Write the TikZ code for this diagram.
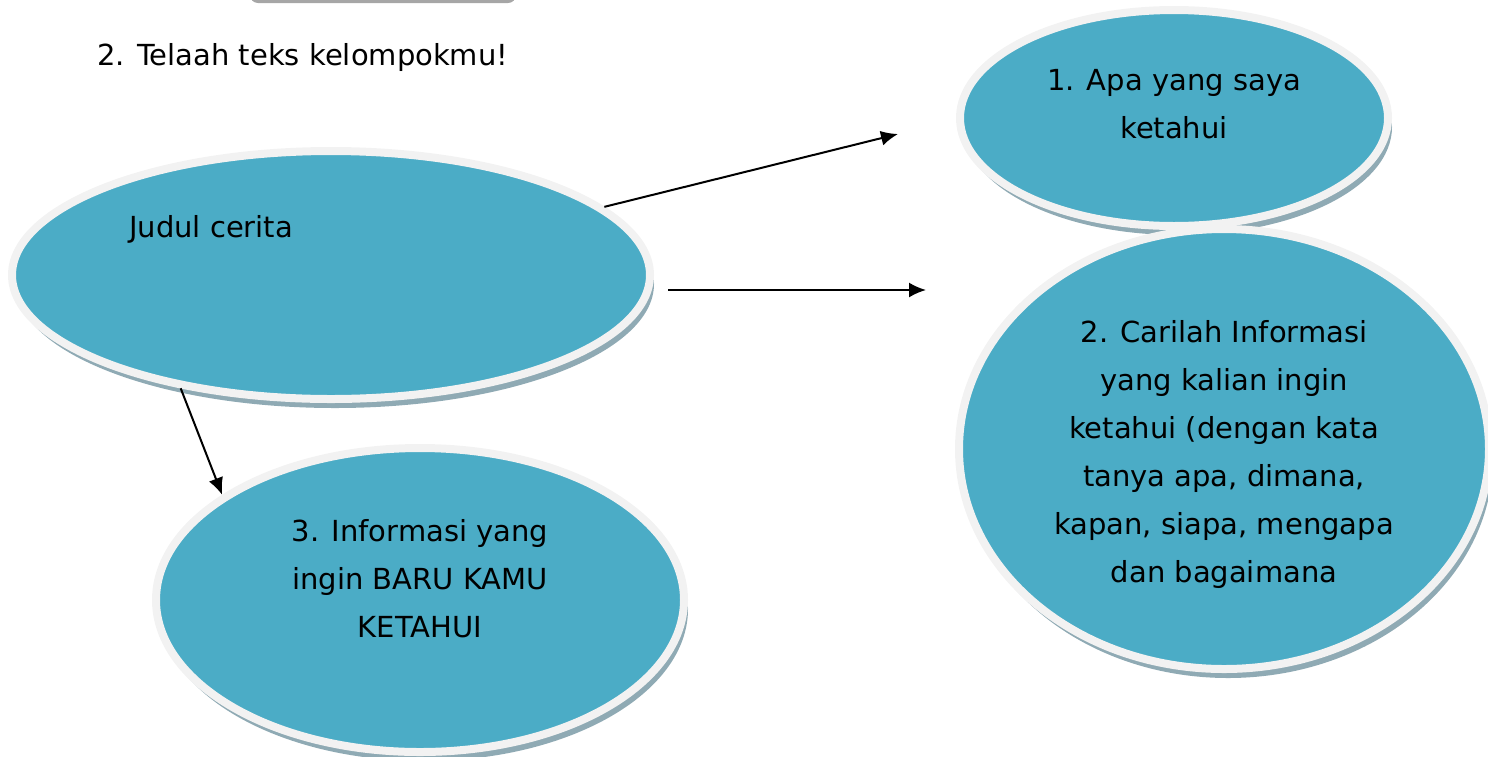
\documentclass[tikz,border=0pt]{standalone}
\usepackage{fontspec}
\setmainfont{DejaVu Sans}
\usepackage{xcolor}
\usetikzlibrary{shapes.geometric,shadows,arrows.meta}
\definecolor{tealfill}{HTML}{4BACC6}
\definecolor{rim}{HTML}{F2F2F2}
\definecolor{shade}{HTML}{8FAAB4}

\begin{document}
\begin{tikzpicture}[x=1pt,y=-1pt,
  blob/.style={ellipse, fill=tealfill, draw=rim, line width=8pt, inner sep=0pt,
    drop shadow={shadow xshift=4pt, shadow yshift=-9pt, fill=shade, opacity=1}},
  txt/.style={font=\fontsize{29}{48}\selectfont, align=center, inner sep=0pt},
  arr/.style={line width=2pt, -{Latex[length=17pt,width=15pt]}}]
\useasboundingbox (0,0) rectangle (1488,756);

% piece of the box above
\fill[gray!70, rounded corners=8pt] (250,-30) rectangle (516,3);

\node[txt, anchor=base west] (title) at (97,65) {2. Telaah teks kelompokmu!};

\node[blob, minimum width=638pt, minimum height=248pt] (judul) at (331,275) {};
\node[blob, minimum width=428pt, minimum height=216pt] (tahu) at (1174,118) {};
\node[blob, minimum width=530pt, minimum height=440pt] (cari) at (1224,449) {};
\node[blob, minimum width=528pt, minimum height=304pt] (info) at (420,600) {};

% last baseline of each text
\node[txt, anchor=base west] (judultxt) at (129,237) {Judul cerita};
\node[txt, anchor=base] (tahutxt) at (1174,138) {1. Apa yang saya\\ketahui};
\node[txt, anchor=base] (caritxt) at (1224,582) {2. Carilah Informasi\\yang kalian ingin\\ketahui (dengan kata\\tanya apa, dimana,\\kapan, siapa, mengapa\\dan bagaimana};
\node[txt, anchor=base] (infotxt) at (420,637) {3. Informasi yang\\ingin BARU KAMU\\KETAHUI};

\coordinate (tip1) at (898,134);
\coordinate (tail2) at (668,290);
\coordinate (tip2) at (926,290);

\draw[arr] (judul.14) -- (tip1);
\draw[arr] (tail2) -- (tip2);
\draw[arr] (judul.217) -- (info.152);
\end{tikzpicture}
\end{document}
